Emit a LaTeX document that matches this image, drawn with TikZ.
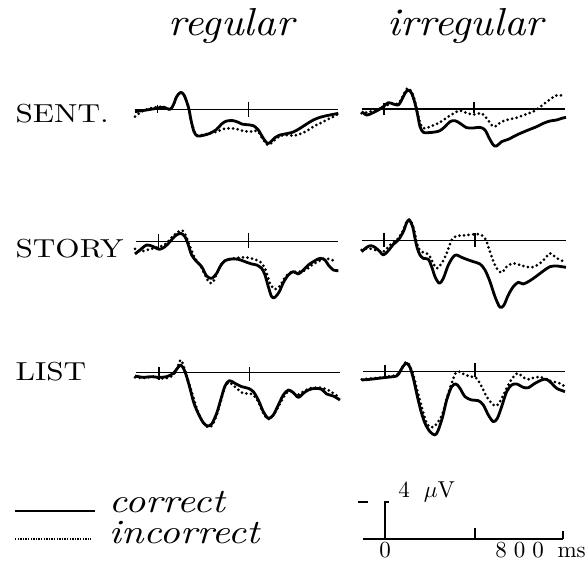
\documentclass[tikz,border=0pt]{standalone}
\usepackage{tikz}
\usetikzlibrary{positioning}

\tikzset{
  wave/.style={line width=2.8pt, line join=round},
  miss/.style={line width=3pt, line cap=round, dash pattern=on 0pt off 4.6pt},
  zero/.style={line width=1.1pt},
  rowlab/.style={font=\fontsize{10}{12}\selectfont, scale=2.6, xscale=1.2, transform shape, inner sep=0pt, anchor=base west},
  condlab/.style={font=\fontsize{10}{12}\selectfont\itshape, scale=3.9, xscale=1.08, transform shape, inner sep=0pt, anchor=base west},
  keylab/.style={font=\fontsize{10}{12}\selectfont\itshape, scale=3.4, xscale=1.17, transform shape, inner sep=0pt, anchor=base west},
  scalelab/.style={font=\fontsize{10}{12}\selectfont, scale=2.3, transform shape, inner sep=0pt},
}

\begin{document}
\begin{tikzpicture}[x=1pt,y=-1pt]
  \useasboundingbox (0,0) rectangle (586,562);

  % column and row labels
  \node[condlab] (reg) at (168,35) {regular};
  \node[condlab] (irr) at (387,35) {irregular};
  \node[rowlab] (sent) at (15,122) {SENT.};
  \node[rowlab] (story) at (15,257) {STORY};
  \node[rowlab] (list) at (15,380) {LIST};

  %sent regular
  \begin{scope}[shift={(120,60)},x=0.3333pt,y=-0.3333pt]
    \draw[zero] (45,148) -- (655,148);
    \draw[zero] (112,135) -- (112,160);
    \draw[zero] (385,125) -- (385,170);
    \draw[miss] plot[smooth] coordinates {(45,170) (70,152) (100,143) (130,140) (150,148) (160,135) (170,110) (182,97) (192,105) (200,125) (207,148) (213,180) (222,212) (232,226) (260,222) (290,215) (310,207) (330,205) (350,207) (370,213) (390,215) (405,212) (415,215) (430,240) (445,255) (460,243) (480,228) (500,225) (520,227) (540,222) (560,213) (580,200) (600,190) (620,180) (640,170) (655,162)};
    \draw[wave] plot[smooth] coordinates {(45,155) (80,150) (110,145) (130,142) (150,148) (160,135) (170,110) (182,97) (192,105) (200,125) (207,148) (213,180) (222,215) (232,228) (250,226) (270,220) (290,208) (305,192) (320,183) (340,182) (355,187) (365,192) (380,194) (400,197) (415,210) (430,235) (442,250) (452,246) (465,233) (480,225) (500,221) (520,216) (540,205) (560,192) (580,180) (600,172) (620,167) (640,163) (655,160)};
  \end{scope}

  %sent irregular
  \begin{scope}[shift={(350,60)},x=0.3333pt,y=-0.3333pt]
    \draw[zero] (35,147) -- (645,147);
    \draw[zero] (102,130) -- (102,165);
    \draw[zero] (372,125) -- (372,160);
    \draw[miss] plot[smooth] coordinates {(35,160) (60,155) (85,148) (100,140) (120,132) (145,130) (160,105) (172,85) (185,95) (195,125) (205,170) (215,200) (225,205) (245,198) (270,187) (295,170) (315,158) (330,152) (345,157) (365,163) (380,162) (395,160) (410,175) (425,195) (435,200) (450,188) (470,180) (500,173) (530,162) (555,152) (575,137) (595,122) (615,108) (630,105) (640,110)};
    \draw[wave] plot[smooth] coordinates {(35,155) (50,165) (65,160) (85,150) (100,140) (115,128) (130,132) (145,135) (155,120) (165,100) (175,90) (185,100) (195,130) (203,165) (210,200) (220,217) (235,218) (255,216) (270,212) (285,200) (300,185) (315,182) (330,190) (350,203) (370,204) (390,202) (405,210) (418,235) (430,255) (440,258) (455,245) (475,238) (500,225) (530,212) (560,200) (580,190) (600,183) (620,180) (635,175) (648,172)};
  \end{scope}

  %story regular
  \begin{scope}[shift={(120,200)},x=0.3333pt,y=-0.3333pt]
    \draw[zero] (48,125) -- (655,125);
    \draw[zero] (115,103) -- (115,150);
    \draw[zero] (386,100) -- (386,145);
    \draw[miss] plot[smooth] coordinates {(45,147) (60,155) (80,150) (100,145) (120,140) (140,130) (155,112) (175,95) (188,92) (198,108) (210,140) (225,175) (240,195) (255,225) (268,248) (280,245) (295,210) (310,185) (330,177) (355,173) (375,172) (400,177) (420,185) (435,205) (450,250) (465,268) (480,258) (495,232) (510,218) (525,215) (545,215) (560,208) (580,192) (600,182) (615,175) (630,178) (645,183)};
    \draw[wave] plot[smooth] coordinates {(45,162) (60,150) (80,135) (100,140) (118,148) (135,140) (150,125) (165,108) (182,100) (195,110) (205,135) (215,165) (230,185) (245,200) (260,228) (275,235) (290,220) (300,200) (315,182) (335,177) (355,178) (375,185) (395,192) (410,195) (425,205) (435,225) (445,260) (455,290) (465,292) (478,275) (490,248) (505,225) (520,215) (535,222) (550,210) (565,195) (580,185) (600,175) (615,180) (625,195) (640,210) (655,212)};
  \end{scope}

  %story irregular
  \begin{scope}[shift={(350,200)},x=0.3333pt,y=-0.3333pt]
    \draw[zero] (35,121) -- (648,121);
    \draw[zero] (102,98) -- (102,140);
    \draw[zero] (375,100) -- (375,140);
    \draw[miss] plot[smooth] coordinates {(35,150) (55,145) (75,150) (100,155) (120,135) (140,120) (155,100) (168,70) (178,58) (188,75) (197,110) (205,145) (215,155) (235,163) (250,190) (260,205) (275,190) (290,160) (305,120) (320,108) (345,106) (370,103) (390,103) (405,115) (415,140) (425,170) (440,205) (455,218) (470,200) (490,190) (520,198) (545,202) (570,190) (590,170) (600,160) (615,170) (630,180) (645,185)};
    \draw[wave] plot[smooth] coordinates {(35,155) (50,142) (62,137) (75,142) (90,155) (100,165) (115,152) (130,133) (145,120) (160,95) (170,68) (178,60) (188,80) (195,115) (202,145) (210,165) (220,175) (235,178) (245,200) (255,230) (268,250) (280,235) (295,195) (310,170) (320,165) (335,172) (350,178) (370,185) (390,192) (405,210) (420,245) (435,290) (450,322) (462,315) (475,285) (490,260) (505,247) (520,252) (540,242) (560,228) (580,213) (600,200) (620,198) (635,200) (648,202)};
  \end{scope}

  %list regular
  \begin{scope}[shift={(120,320)},x=0.3333pt,y=-0.3333pt]
    \draw[zero] (48,158) -- (660,158);
    \draw[zero] (117,140) -- (117,180);
    \draw[zero] (388,140) -- (388,182);
    \draw[miss] plot[smooth] coordinates {(45,172) (70,174) (100,170) (120,175) (150,172) (165,158) (175,135) (183,120) (193,145) (202,175) (215,215) (230,265) (245,300) (260,320) (275,318) (290,285) (303,240) (315,200) (328,188) (350,205) (370,220) (385,220) (400,225) (415,245) (430,280) (445,298) (460,285) (478,255) (495,225) (510,212) (530,225) (550,215) (570,205) (600,203) (625,210) (640,220) (655,230)};
    \draw[wave] plot[smooth] coordinates {(45,168) (70,172) (95,170) (115,172) (140,170) (160,160) (172,145) (182,135) (192,148) (200,170) (210,205) (222,250) (237,285) (250,308) (262,318) (275,312) (290,280) (302,240) (315,198) (328,182) (345,190) (365,200) (385,205) (400,215) (415,240) (430,275) (445,295) (460,285) (475,255) (490,225) (505,210) (520,218) (535,232) (550,220) (565,210) (585,205) (605,208) (620,222) (640,228) (660,240)};
  \end{scope}

  %list irregular
  \begin{scope}[shift={(350,320)},x=0.3333pt,y=-0.3333pt]
    \draw[zero] (38,155) -- (645,155);
    \draw[zero] (105,135) -- (105,170);
    \draw[zero] (375,130) -- (375,172);
    \draw[miss] plot[smooth] coordinates {(35,178) (60,176) (90,173) (110,170) (140,165) (152,150) (165,128) (175,130) (190,165) (200,205) (215,260) (230,310) (245,322) (260,312) (278,280) (295,220) (310,175) (318,158) (330,155) (345,165) (365,170) (380,175) (395,200) (410,230) (425,250) (438,258) (450,245) (465,215) (480,185) (495,165) (505,160) (520,172) (535,178) (555,172) (575,172) (590,180) (610,185) (630,190) (645,200)};
    \draw[wave] plot[smooth] coordinates {(35,180) (60,178) (85,175) (110,172) (140,168) (150,155) (160,138) (170,130) (180,142) (190,175) (200,220) (212,270) (225,310) (240,335) (255,345) (265,330) (278,290) (290,240) (305,200) (318,192) (330,205) (345,230) (365,240) (385,242) (400,255) (415,285) (430,305) (442,295) (455,260) (470,215) (485,195) (500,192) (520,202) (535,203) (555,190) (575,180) (590,178) (605,190) (620,205) (645,215)};
  \end{scope}

  % key
  \node[keylab] (corr) at (108,512) {correct};
  \node[keylab] (incorr) at (108,543) {incorrect};
  \coordinate (corrA) at (15,511);
  \coordinate (incorrA) at (15,539);
  \draw[line width=2pt] (corrA) -- ++(80,0);
  \draw[line width=1.3pt, dash pattern=on 1.3pt off 1.3pt] (incorrA) -- ++(76,0);

  % scale bar
  \coordinate (sb0) at (385,539);
  \coordinate (sbTop) at (385,502);
  \draw[zero] (363,539) -- (563,539);
  \draw[zero] (sb0) -- (sbTop) -- ++(4,0);
  \draw[zero] (358,502) -- (368,502);
  \draw[zero] (475,539) -- ++(0,-11);
  \draw[zero] (563,539) -- ++(0,-8);
  \node[scalelab, anchor=base west] (uv) at (398,497) {4\hspace{6pt}$\mu$V};
  \node[scalelab, anchor=base] (t0) at (385,557) {0};
  \node[scalelab, anchor=base west] (t800) at (495,557) {8\kern3pt0\kern3pt0\hspace{6pt}ms};
\end{tikzpicture}
\end{document}
